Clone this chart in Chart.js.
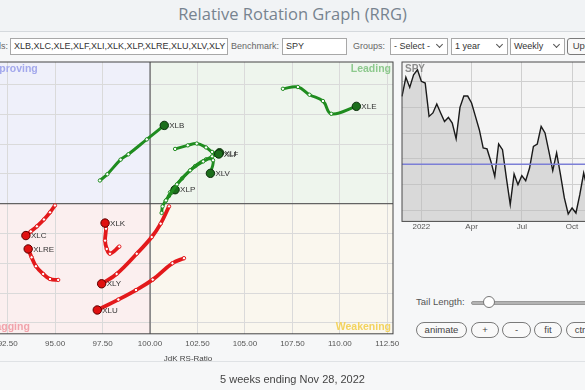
<!DOCTYPE html>
<html>
<head>
<meta charset="utf-8">
<script src="https://cdn.jsdelivr.net/npm/chart.js"></script>
<style>
  body { margin:0; width:585px; height:390px; overflow:hidden; background:#f6f7f8; font-family:Arial, "Liberation Sans", sans-serif; position:relative; }
  .abs { position:absolute; }
  .title { left:0; top:0; width:585px; height:31px; border-bottom:1px solid #d5d9dd; background:#f1f3f5; text-align:center; font:16.5px "Open Sans", sans-serif; color:#77838f; line-height:27px; }
  .lbl { top:38px; height:17px; line-height:17px; font-size:9px; color:#666; white-space:nowrap; }
  .box { top:38px; height:15px; line-height:15px; border:1px solid #a8a8a8; background:#fff; font-size:9px; color:#333; padding-left:3px; white-space:nowrap; overflow:hidden; }
  .sel:after { content:""; position:absolute; right:5px; top:3px; width:4px; height:4px; border-right:1.5px solid #555; border-bottom:1.5px solid #555; transform:rotate(45deg); }
  .btn { height:14px; line-height:14px; border:1px solid #7a7a7a; border-radius:8px; background:#f9f9f9; font-size:9.5px; color:#444; text-align:center; }
  .sep { left:0; top:361px; width:585px; height:1px; background:#dfe2e5; }
  .caption { left:0; top:373px; width:585px; text-align:center; font-size:11px; color:#444; }
</style>
</head>
<body>
<div class="abs title">Relative Rotation Graph (RRG)</div>

<div class="abs lbl" style="left:-32px;width:40px;text-align:right">Symbols:</div>
<div class="abs box" style="left:10px;width:213px">XLB,XLC,XLE,XLF,XLI,XLK,XLP,XLRE,XLU,XLV,XLY</div>
<div class="abs lbl" style="left:231px">Benchmark:</div>
<div class="abs box" style="left:282px;width:60px">SPY</div>
<div class="abs lbl" style="left:353px">Groups:</div>
<div class="abs box sel" style="left:390px;width:53px">- Select -</div>
<div class="abs box sel" style="left:451px;width:52px">1 year</div>
<div class="abs box sel" style="left:510px;width:50px">Weekly</div>
<div class="abs btn" style="left:567px;top:38px;width:40px;border-radius:3px;height:15px">Update</div>

<div class="abs" style="left:-37px;top:52px;width:447px;height:312px"><canvas id="rrg"></canvas></div>
<div class="abs" style="left:399.7px;top:60px;width:206px;height:173px"><canvas id="spy"></canvas></div>
<div class="abs" style="left:405px;top:63px;font-size:10px;font-weight:bold;color:#8c8c8c">SPY</div>

<div class="abs" style="left:416px;top:296px;font-size:9.5px;color:#555">Tail Length:</div>
<div class="abs" style="left:471px;top:300.5px;width:130px;height:2px;background:#b3b3b3;border:1px solid #9a9a9a;border-radius:2px"></div>
<div class="abs" style="left:483px;top:296px;width:10px;height:10px;border:1px solid #777;border-radius:50%;background:#fff"></div>

<div class="abs btn" style="left:416px;top:322px;width:49px">animate</div>
<div class="abs btn" style="left:471px;top:322px;width:26px">+</div>
<div class="abs btn" style="left:502px;top:322px;width:27px">-</div>
<div class="abs btn" style="left:534px;top:322px;width:26px">fit</div>
<div class="abs btn" style="left:566px;top:322px;width:26px">ctr</div>

<div class="abs sep"></div>
<div class="abs caption">5 weeks ending Nov 28, 2022</div>

<script>
// RRG tails: 5 weeks of history plus the latest point (last value)
const symbols = ['XLB', 'XLC', 'XLE', 'XLF', 'XLI', 'XLK', 'XLP', 'XLRE', 'XLU', 'XLV', 'XLY'];
const rsRatio = [
  [97.36, 97.75, 98.45, 98.86, 99.83, 100.75],
  [94.99, 94.73, 94.41, 94.04, 93.72, 93.46],
  [107.00, 107.79, 108.40, 109.11, 109.55, 110.87],
  [101.32, 101.99, 102.46, 102.95, 103.27, 103.62],
  [100.84, 101.42, 102.11, 102.80, 103.27, 103.66],
  [98.38, 97.89, 97.72, 97.63, 97.68, 97.63],
  [100.61, 100.66, 100.82, 101.00, 101.16, 101.32],
  [95.16, 94.73, 94.37, 93.99, 93.76, 93.58],
  [101.79, 101.18, 100.14, 99.26, 98.33, 97.22],
  [101.05, 101.69, 102.37, 102.95, 103.32, 103.18],
  [101.00, 100.56, 100.09, 99.30, 98.24, 97.45]
];
const rsMomentum = [
  [100.78, 100.99, 101.48, 101.66, 102.16, 102.63],
  [99.94, 99.71, 99.47, 99.24, 99.07, 98.93],
  [103.86, 103.92, 103.66, 103.45, 103.02, 103.27],
  [101.84, 101.96, 102.02, 101.89, 101.74, 101.67],
  [100.11, 100.65, 101.12, 101.42, 101.59, 101.71],
  [98.56, 98.32, 98.48, 98.76, 99.16, 99.35],
  [99.69, 99.91, 100.09, 100.26, 100.38, 100.47],
  [97.44, 97.47, 97.64, 97.90, 98.20, 98.48],
  [98.17, 98.00, 97.45, 97.10, 96.78, 96.43],
  [100.38, 100.85, 101.26, 101.49, 101.46, 101.02],
  [99.91, 99.33, 98.88, 98.32, 97.64, 97.31]
];
const ratioTicks = [92.5, 95, 97.5, 100, 102.5, 105, 107.5, 110, 112.5];
const momentumTicks = [96, 97, 98, 99, 100, 101, 102, 103, 104];

// SPY weekly closes, Nov 29 2021 .. Nov 28 2022
const spyClose = [448.5, 463.3, 455.5, 465.3, 469.2, 460.2, 458.9, 433, 435.7, 442.6,
  435.7, 429.1, 432.2, 427.9, 415.7, 440, 448.8, 448.8, 443.4, 433,
  422.7, 408.5, 407.8, 398.1, 386.5, 411.6, 407.2, 385.3, 364.6, 388.4,
  380.1, 387.1, 383.2, 393, 409.8, 411.6, 425.3, 420.2, 405.9, 391,
  404.7, 387.8, 369.8, 357.4, 362, 358.1, 372.3, 389.1, 376.4, 398.5,
  396, 402.3, 395.9];
const spyTickIndex = [5, 18, 31, 44];
const spyTickText = ['2022', 'Apr', 'Jul', 'Oct'];
const spyPriceTicks = [360, 380, 400, 420, 440, 460];

const GREEN = '#1f8c1f', RED = '#e3191b';

const datasets = symbols.map((sym, i) => {
  const pts = rsRatio[i].map((x, j) => ({ x: x, y: rsMomentum[i][j] }));
  const up = rsMomentum[i][rsMomentum[i].length - 1] >= 100;
  const last = pts.length - 1;
  return {
    label: sym,
    data: pts,
    showLine: true,
    tension: 0.4,
    borderColor: up ? GREEN : RED,
    borderWidth: up ? 3 : 3.8,
    pointRadius: pts.map((p, j) => j === last ? 4.2 : 1.7),
    pointBackgroundColor: pts.map((p, j) => j === last ? (up ? '#1b6e1b' : '#e01010') : '#fff'),
    pointBorderColor: pts.map((p, j) => j === last ? (up ? '#0c2f0c' : '#5a0000') : (up ? GREEN : RED)),
    pointBorderWidth: 1
  };
});

const quadrants = {
  id: 'quadrants',
  beforeDraw(chart) {
    const { ctx, chartArea: a, scales } = chart;
    const cx = scales.x.getPixelForValue(100), cy = scales.y.getPixelForValue(100);
    ctx.save();
    ctx.fillStyle = '#eff0fa'; ctx.fillRect(a.left, a.top, cx - a.left, cy - a.top);
    ctx.fillStyle = '#eef5ed'; ctx.fillRect(cx, a.top, a.right - cx, cy - a.top);
    ctx.fillStyle = '#fbefef'; ctx.fillRect(a.left, cy, cx - a.left, a.bottom - cy);
    ctx.fillStyle = '#faf7ee'; ctx.fillRect(cx, cy, a.right - cx, a.bottom - cy);
    ctx.restore();
  },
  beforeDatasetsDraw(chart) {
    const { ctx, chartArea: a, scales } = chart;
    const cx = scales.x.getPixelForValue(100), cy = scales.y.getPixelForValue(100);
    ctx.save();
    ctx.font = 'bold 10.5px Arial';
    ctx.textBaseline = 'middle';
    ctx.textAlign = 'left';
    ctx.fillStyle = '#a3a8ec'; ctx.fillText('Improving', a.left + 4, a.top + 7);
    ctx.fillStyle = '#f1a3ab'; ctx.fillText('Lagging', a.left + 6, a.bottom - 7);
    ctx.textAlign = 'right';
    ctx.fillStyle = '#8dc98d'; ctx.fillText('Leading', a.right - 2, a.top + 7);
    ctx.fillStyle = '#f3d35f'; ctx.fillText('Weakening', a.right - 2, a.bottom - 7);
    ctx.strokeStyle = '#444';
    ctx.lineWidth = 1;
    ctx.beginPath();
    ctx.moveTo(cx, a.top); ctx.lineTo(cx, a.bottom);
    ctx.moveTo(a.left, cy); ctx.lineTo(a.right, cy);
    ctx.stroke();
    ctx.strokeRect(a.left, a.top, a.right - a.left, a.bottom - a.top);
    ctx.restore();
  },
  afterDatasetsDraw(chart) {
    const { ctx } = chart;
    ctx.save();
    ctx.font = '8px Arial';
    ctx.fillStyle = '#333';
    ctx.textBaseline = 'middle';
    chart.data.datasets.forEach((ds, i) => {
      const meta = chart.getDatasetMeta(i);
      const head = meta.data[meta.data.length - 1];
      ctx.fillText(ds.label, head.x + 5, head.y + 0.5);
    });
    ctx.restore();
  }
};

new Chart(document.getElementById('rrg'), {
  type: 'scatter',
  data: { datasets: datasets },
  options: {
    responsive: true,
    maintainAspectRatio: false,
    animation: false,
    layout: { padding: { left: 20, right: 17, top: 10, bottom: 0 } },
    plugins: { legend: { display: false }, tooltip: { enabled: false } },
    scales: {
      x: {
        type: 'linear',
        min: 91.2,
        max: 112.8,
        afterBuildTicks: scale => { scale.ticks = ratioTicks.map(v => ({ value: v })); },
        ticks: { font: { size: 8, family: 'Arial' }, color: '#555', padding: 5, callback: v => v.toFixed(2) },
        grid: { color: '#dadada', drawTicks: false },
        border: { display: false },
        title: { display: true, text: 'JdK RS-Ratio', font: { size: 8, family: 'Arial' }, color: '#444', padding: { top: 1, bottom: 0 } }
      },
      y: {
        type: 'linear',
        min: 95.63,
        max: 104.76,
        afterBuildTicks: scale => { scale.ticks = momentumTicks.map(v => ({ value: v })); },
        ticks: { display: false },
        grid: { color: '#dadada', drawTicks: false },
        border: { display: false }
      }
    }
  },
  plugins: [quadrants]
});

const spyFrame = {
  id: 'spyFrame',
  beforeDraw(chart) {
    const { ctx, chartArea: a } = chart;
    ctx.save();
    ctx.fillStyle = '#f4f4f4';
    ctx.fillRect(a.left, a.top, a.right - a.left, a.bottom - a.top);
    ctx.restore();
  },
  afterDatasetsDraw(chart) {
    const { ctx, chartArea: a, scales } = chart;
    const y = scales.y.getPixelForValue(spyClose[spyClose.length - 1]);
    ctx.save();
    ctx.strokeStyle = '#7c7fd6';
    ctx.lineWidth = 1.5;
    ctx.beginPath(); ctx.moveTo(a.left, y); ctx.lineTo(a.right, y); ctx.stroke();
    ctx.strokeStyle = '#4a4a4a';
    ctx.lineWidth = 1;
    ctx.strokeRect(a.left, a.top, a.right - a.left, a.bottom - a.top);
    ctx.restore();
  }
};

new Chart(document.getElementById('spy'), {
  type: 'line',
  data: {
    labels: spyClose.map((v, i) => i),
    datasets: [{
      data: spyClose,
      borderColor: '#1a1a1a',
      borderWidth: 1.4,
      backgroundColor: 'rgba(185,185,185,0.45)',
      fill: 'start',
      pointRadius: 0,
      tension: 0
    }]
  },
  options: {
    responsive: true,
    maintainAspectRatio: false,
    animation: false,
    layout: { padding: { left: 2, right: 3, top: 2, bottom: 0 } },
    plugins: { legend: { display: false }, tooltip: { enabled: false } },
    scales: {
      x: {
        ticks: {
          autoSkip: false,
          maxRotation: 0,
          padding: 1,
          font: { size: 8, family: 'Arial' },
          color: '#555',
          callback: (v, i) => {
            const k = spyTickIndex.indexOf(i);
            return k >= 0 ? spyTickText[k] : null;
          }
        },
        grid: { color: '#cfcfcf', drawTicks: false },
        border: { display: false }
      },
      y: {
        position: 'right',
        min: 351.6,
        max: 475.2,
        afterBuildTicks: scale => { scale.ticks = spyPriceTicks.map(v => ({ value: v })); },
        ticks: { display: false },
        grid: { color: '#cfcfcf', drawTicks: false },
        border: { display: false }
      }
    }
  },
  plugins: [spyFrame]
});
</script>
</body>
</html>
